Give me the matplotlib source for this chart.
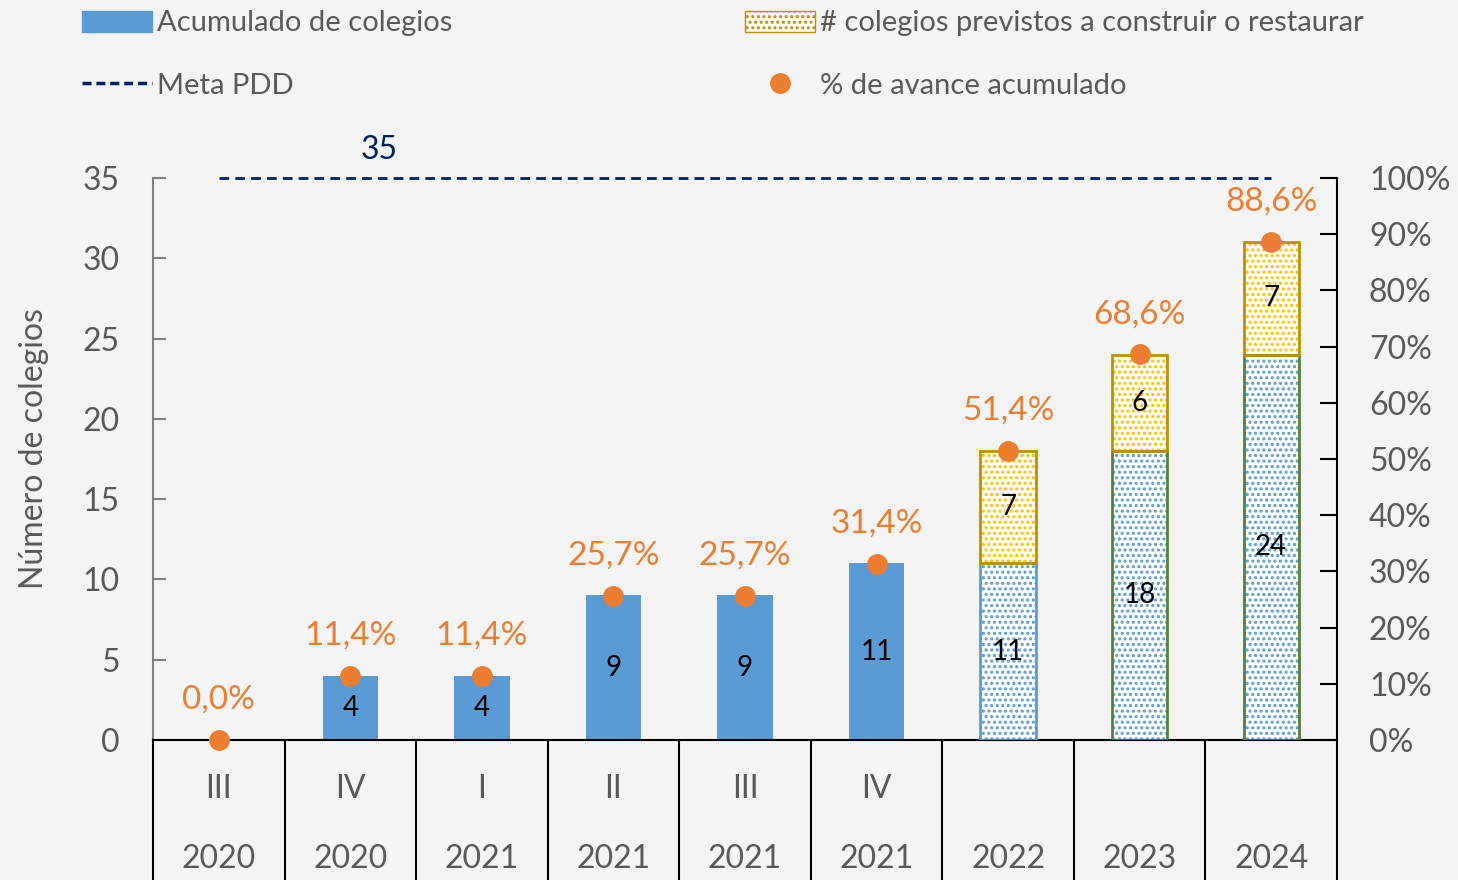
import numpy as np
import matplotlib
matplotlib.use("Agg")
from matplotlib import pyplot as plt
from matplotlib.lines import Line2D
from matplotlib.patches import Patch

plt.rcParams['font.family'] = ['Lato', 'DejaVu Sans']
plt.rcParams['hatch.linewidth'] = 1.5

# data
quarters = ["III", "IV", "I", "II", "III", "IV", "", "", ""]
years = ["2020", "2020", "2021", "2021", "2021", "2021", "2022", "2023", "2024"]
acumulado = [0, 4, 4, 9, 9, 11, 11, 18, 24]
previstos = [0, 0, 0, 0, 0, 0, 7, 6, 7]
avance = [0.0, 11.4, 11.4, 25.7, 25.7, 31.4, 51.4, 68.6, 88.6]
meta = 35
projected = [False, False, False, False, False, False, True, True, True]
proj_edge = ["#5B9BD5"] * 6 + ["#5B9BD5", "#548235", "#548235"]

BLUE = "#5B9BD5"
ORANGE = "#ED7D31"
NAVY = "#002060"
GOLD = "#BF9000"
YELLOW = "#FFC000"
GREY = "#595959"

fig = plt.figure(figsize=(14.58, 8.8), dpi=100)
fig.patch.set_facecolor("#f4f4f4")
ax = fig.add_axes([153 / 1458, 140 / 880, (1337 - 153) / 1458, 562 / 880])
ax.set_facecolor("none")

x = np.arange(len(years))
w = 0.42

# bars
for i in x:
    if not projected[i]:
        if acumulado[i] > 0:
            ax.bar(i, acumulado[i], w, color=BLUE, zorder=2)
    else:
        ax.bar(i, acumulado[i], w, color="white", edgecolor=BLUE, hatch="...",
               linewidth=0, zorder=2)
        ax.bar(i, acumulado[i], w, fill=False, edgecolor=proj_edge[i], linewidth=2, zorder=3)
    if previstos[i] > 0:
        ax.bar(i, previstos[i], w, bottom=acumulado[i], color="white", edgecolor=YELLOW,
               hatch="...", linewidth=0, zorder=2)
        ax.bar(i, previstos[i], w, bottom=acumulado[i], fill=False, edgecolor=GOLD,
               linewidth=2, zorder=3)

# bar labels
for i in x:
    if acumulado[i] > 0:
        ax.text(i, acumulado[i] / 2, str(acumulado[i]), ha="center", va="center",
                fontsize=20, color="black", zorder=5)
    if previstos[i] > 0:
        ax.text(i, acumulado[i] + previstos[i] / 2, str(previstos[i]), ha="center",
                va="center", fontsize=20, color="black", zorder=5)

# meta line
ax.plot([x[0], x[-1]], [meta, meta], color=NAVY, linestyle=(0, (3.5, 2.2)), linewidth=2,
        clip_on=False, zorder=4)
ax.text(1.22, meta + 0.8, str(meta), color=NAVY, fontsize=23, ha="center", va="bottom")

ax.set_xlim(-0.5, len(years) - 0.5)
ax.set_ylim(0, 35)
ax.set_yticks(np.arange(0, 36, 5))
ax.tick_params(axis="y", direction="in", length=9, width=1.5, color="#808080",
               labelsize=23, labelcolor=GREY, pad=24)
ax.set_xticks([])
ax.set_ylabel("Número de colegios", fontsize=23, color=GREY)
ax.yaxis.set_label_coords(-0.088, 0.518)
for s in ["top", "right"]:
    ax.spines[s].set_visible(False)
ax.spines["left"].set_color("#808080")
ax.spines["left"].set_linewidth(1.5)
ax.spines["bottom"].set_color("black")
ax.spines["bottom"].set_linewidth(1.5)

# category table below
depth = -140 / 562
for b in np.arange(-0.5, len(years), 1):
    ax.plot([b, b], [0, depth * 35], color="black", linewidth=1.5, clip_on=False)
for i in x:
    ax.text(i, -49 / 562 * 35, quarters[i], ha="center", va="center", fontsize=23, color=GREY)
    ax.text(i, -119 / 562 * 35, years[i], ha="center", va="center", fontsize=23, color=GREY)

# right axis
ax2 = ax.twinx()
ax2.set_ylim(0, 1)
ax2.set_yticks(np.arange(0, 1.01, 0.1))
ax2.set_yticklabels([f"{int(round(v * 100))}%" for v in np.arange(0, 1.01, 0.1)])
ax2.tick_params(axis="y", direction="in", length=12, width=1.5, color="black",
                labelsize=23, labelcolor=GREY, pad=23)
for s in ["top", "left", "bottom"]:
    ax2.spines[s].set_visible(False)
ax2.spines["right"].set_linewidth(1.5)

pct = np.array(avance) / 100
ax2.plot(x, pct, "o", color=ORANGE, markersize=14, linestyle="none", clip_on=False, zorder=6)
for i in x:
    ax2.text(i, pct[i] + 0.045, f"{avance[i]:.1f}%".replace(".", ","),
             ha="center", va="bottom", fontsize=24, color=ORANGE)

# legend
handles = [
    Patch(facecolor=BLUE, edgecolor=BLUE),
    Line2D([0], [0], color=NAVY, linestyle=(0, (2.6, 1.4)), linewidth=2.5),
    Patch(facecolor="white", edgecolor=GOLD, hatch="..."),
    Line2D([0], [0], marker="o", color=ORANGE, linestyle="none", markersize=14),
]
labels = ["Acumulado de colegios", "Meta PDD",
          "# colegios previstos a construir o restaurar", "% de avance acumulado"]
leg = fig.legend(handles, labels, loc="upper left", bbox_to_anchor=(0.038, 1.018), ncol=2,
                 frameon=False, fontsize=21, handlelength=2.4, handleheight=0.75,
                 handletextpad=0.2, columnspacing=10.0, labelspacing=1.25,
                 labelcolor=GREY)

fig.savefig("out.png", dpi=100, facecolor=fig.get_facecolor())
